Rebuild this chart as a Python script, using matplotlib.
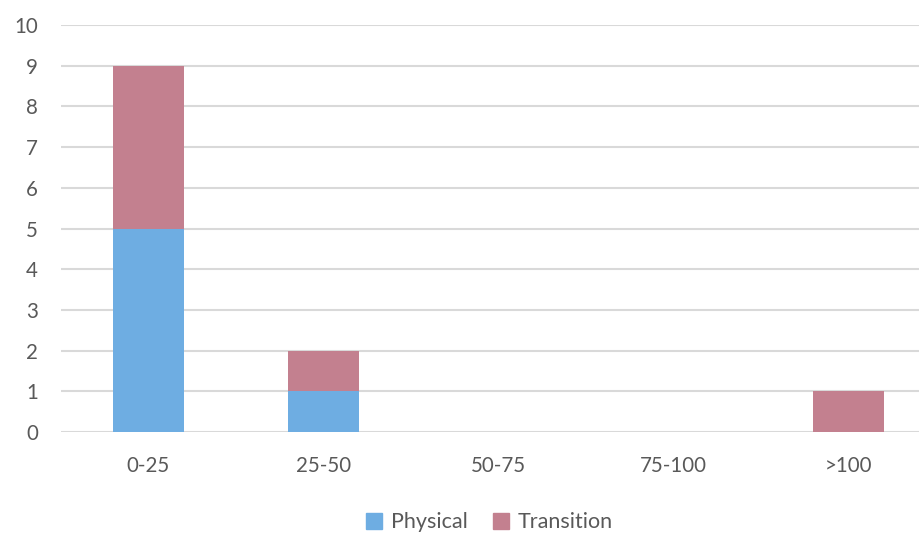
import matplotlib
matplotlib.use("Agg")
import matplotlib.pyplot as plt
from matplotlib.patches import Patch

categories = ["0-25", "25-50", "50-75", "75-100", ">100"]
physical = [5, 1, 0, 0, 0]
transition = [4, 1, 0, 0, 1]
yticks = list(range(0, 11))

c_phys = "#6EADE2"
c_trans = "#C3808F"

plt.rcParams['font.family'] = ['Lato', 'DejaVu Sans']
fig = plt.figure(figsize=(9.2, 5.33), dpi=100)
ax = fig.add_axes([0.0663, 0.1895, 0.951, 0.7635])

x = list(range(len(categories)))
w = 0.406
ax.bar(x, physical, width=w, color=c_phys, zorder=3)
ax.bar(x, transition, width=w, bottom=physical, color=c_trans, zorder=3,
       edgecolor="white", linewidth=0)

ax.set_xlim(-0.5, len(categories) - 0.5)
ax.set_ylim(0, 10)
ax.set_yticks(yticks)
ax.set_xticks(x)
ax.set_xticklabels(categories)
ax.yaxis.grid(True, color="#D9D9D9", linewidth=1.5, zorder=0)
for s in ax.spines.values():
    s.set_visible(False)
ax.tick_params(axis="both", length=0, labelsize=14.8, colors="#595959")
ax.tick_params(axis="y", pad=16.5)
ax.tick_params(axis="x", pad=17)

handles = [Patch(color=c_phys, label="Physical"), Patch(color=c_trans, label="Transition")]
fig.legend(handles=handles, loc="center", bbox_to_anchor=(0.532, 0.02), ncol=2,
           frameon=False, fontsize=15.5, handlelength=0.75, handleheight=0.75,
           columnspacing=1.2, handletextpad=0.4, labelcolor="#595959")

fig.savefig("out.png", dpi=100)
